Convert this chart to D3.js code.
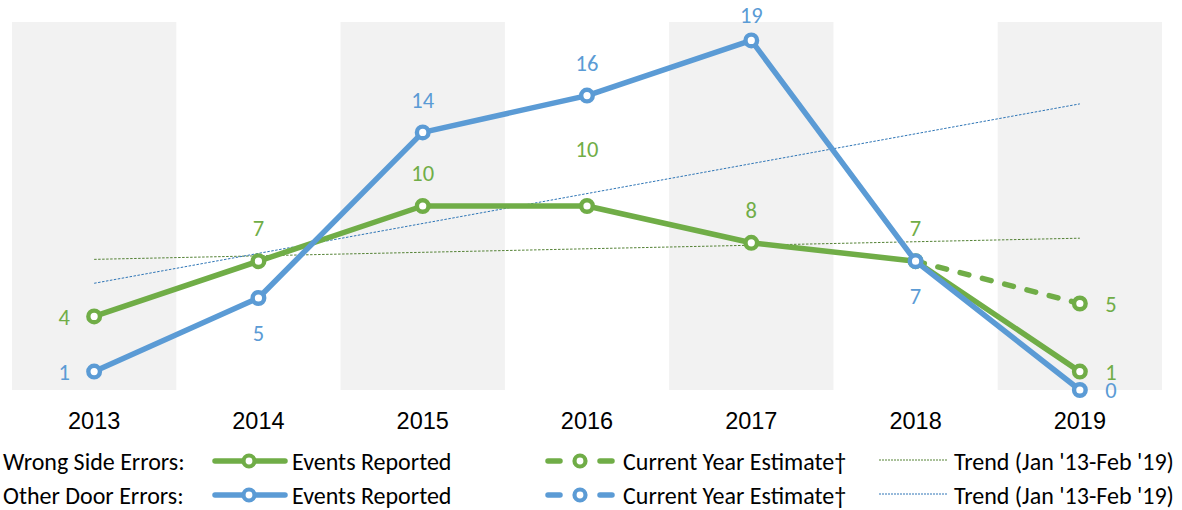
<!DOCTYPE html>
<html>
<head>
<meta charset="utf-8">
<script src="https://cdn.jsdelivr.net/npm/d3@7"></script>
<style>
  html, body { margin: 0; padding: 0; background: #fff; }
  svg { display: block; font-family: Carlito, Calibri, 'Open Sans', sans-serif; }
</style>
</head>
<body>
<svg id="chart" width="1182" height="510"></svg>
<script>
'use strict';

// data
var years = [2013, 2014, 2015, 2016, 2017, 2018, 2019];
var wrongSide = [4, 7, 10, 10, 8, 7, 1];
var otherDoor = [1, 5, 14, 16, 19, 7, 0];
var estimateYears = [2018, 2019];
var wrongSideEstimate = [7, 4.7];
var trendYears = [2013, 2019];
var wrongSideTrend = [7.1, 8.25];
var otherDoorTrend = [5.8, 15.55];
var shadedYears = [2013, 2015, 2017, 2019];
// where each value label sits relative to its point
var wrongSidePlacement = ['left', 'above', 'above', 'high', 'above', 'above', 'right'];
var otherDoorPlacement = ['left', 'below', 'above', 'above', 'above', 'below', 'right'];

var green = '#70AD47', blue = '#5B9BD5';
var greenTrend = '#548235', blueTrend = '#2E75B6';

var svg = d3.select('#chart');

var x = d3.scaleBand().domain(years).range([12, 1162]).padding(0);
var y = d3.scaleLinear().domain([0, 20]).range([390, 22]);
var cx = function (yr) { return x(yr) + x.bandwidth() / 2; };

// alternating shaded columns
svg.append('g').selectAll('rect').data(shadedYears).enter().append('rect')
    .attr('x', function (d) { return x(d); })
    .attr('y', y(20))
    .attr('width', x.bandwidth())
    .attr('height', y(0) - y(20))
    .attr('fill', '#F2F2F2');

// x axis labels
var xAxis = d3.axisBottom(x).tickSize(0).tickPadding(0);
var gx = svg.append('g').attr('transform', 'translate(0,' + y(0) + ')').call(xAxis);
gx.select('.domain').remove();
gx.selectAll('text')
    .attr('y', 39).attr('dy', null)
    .attr('font-size', 23.5).attr('fill', '#000')
    .attr('font-family', null);

var line = d3.line()
    .x(function (d) { return cx(d[0]); })
    .y(function (d) { return y(d[1]); });

// trend lines
[[wrongSideTrend, greenTrend], [otherDoorTrend, blueTrend]].forEach(function (t) {
    svg.append('path')
        .datum(d3.zip(trendYears, t[0]))
        .attr('d', line)
        .attr('fill', 'none')
        .attr('stroke', t[1])
        .attr('stroke-width', 1)
        .attr('stroke-dasharray', '2.5,1.5');
});

var drawMarkers = function (pts, color) {
    svg.append('g').selectAll('circle').data(pts).enter().append('circle')
        .attr('cx', function (d) { return cx(d[0]); })
        .attr('cy', function (d) { return y(d[1]); })
        .attr('r', 5.8)
        .attr('fill', '#fff')
        .attr('stroke', color)
        .attr('stroke-width', 4.4);
};

var drawLabels = function (pts, placement, color) {
    svg.append('g').selectAll('text').data(pts).enter().append('text')
        .attr('x', function (d, i) {
            var p = placement[i];
            return cx(d[0]) + (p == 'left' ? -30 : p == 'right' ? 31 : 0);
        })
        .attr('y', function (d, i) {
            var p = placement[i], py = y(d[1]);
            var c = p == 'above' ? Math.max(py - 32, 15.5) : p == 'high' ? py - 56 : p == 'below' ? py + 36 : py + 1;
            return c + 7.2;
        })
        .attr('text-anchor', 'middle')
        .attr('font-size', 22.5)
        .attr('fill', color)
        .text(function (d) { return d3.format('.0f')(d[1]); });
};

// wrong side: estimate, actual
var estPts = d3.zip(estimateYears, wrongSideEstimate);
svg.append('path').datum(estPts).attr('d', line)
    .attr('fill', 'none').attr('stroke', green).attr('stroke-width', 5.5)
    .attr('stroke-linecap', 'round').attr('stroke-dasharray', '9,14');
var wsPts = d3.zip(years, wrongSide);
svg.append('path').datum(wsPts).attr('d', line)
    .attr('fill', 'none').attr('stroke', green).attr('stroke-width', 5.5)
    .attr('stroke-linejoin', 'round');
drawMarkers(estPts.slice(1), green);
drawMarkers(wsPts, green);

// other door
var odPts = d3.zip(years, otherDoor);
svg.append('path').datum(odPts).attr('d', line)
    .attr('fill', 'none').attr('stroke', blue).attr('stroke-width', 5.5)
    .attr('stroke-linejoin', 'round');
drawMarkers(odPts, blue);

drawLabels(wsPts, wrongSidePlacement, green);
drawLabels(estPts.slice(1), ['right'], green);
drawLabels(odPts, otherDoorPlacement, blue);

// legend
var legendRows = [
    { title: 'Wrong Side Errors:', color: green, trend: greenTrend, y: 461 },
    { title: 'Other Door Errors:', color: blue, trend: blueTrend, y: 495 }
];
var leg = svg.append('g').attr('font-size', 24);
legendRows.forEach(function (row) {
    leg.append('text').attr('x', 3).attr('y', row.y + 8.5).text(row.title);

    leg.append('line').attr('x1', 215).attr('x2', 285).attr('y1', row.y).attr('y2', row.y)
        .attr('stroke', row.color).attr('stroke-width', 5.5).attr('stroke-linecap', 'round');
    leg.append('circle').attr('cx', 249).attr('cy', row.y).attr('r', 5.5)
        .attr('fill', '#fff').attr('stroke', row.color).attr('stroke-width', 4.2);
    leg.append('text').attr('x', 292).attr('y', row.y + 8.5).text('Events Reported');

    leg.append('line').attr('x1', 548).attr('x2', 612).attr('y1', row.y).attr('y2', row.y)
        .attr('stroke', row.color).attr('stroke-width', 5.5).attr('stroke-linecap', 'round')
        .attr('stroke-dasharray', '12,40');
    leg.append('circle').attr('cx', 580).attr('cy', row.y).attr('r', 5.5)
        .attr('fill', '#fff').attr('stroke', row.color).attr('stroke-width', 4.2);
    leg.append('text').attr('x', 623).attr('y', row.y + 8.5).text('Current Year Estimate\u2020');

    leg.append('line').attr('x1', 879).attr('x2', 947).attr('y1', row.y - 1).attr('y2', row.y - 1)
        .attr('stroke', row.trend).attr('stroke-width', 1).attr('stroke-dasharray', '2,1');
    leg.append('text').attr('x', 954).attr('y', row.y + 8.5).text("Trend (Jan '13-Feb '19)");
});
</script>
</body>
</html>
